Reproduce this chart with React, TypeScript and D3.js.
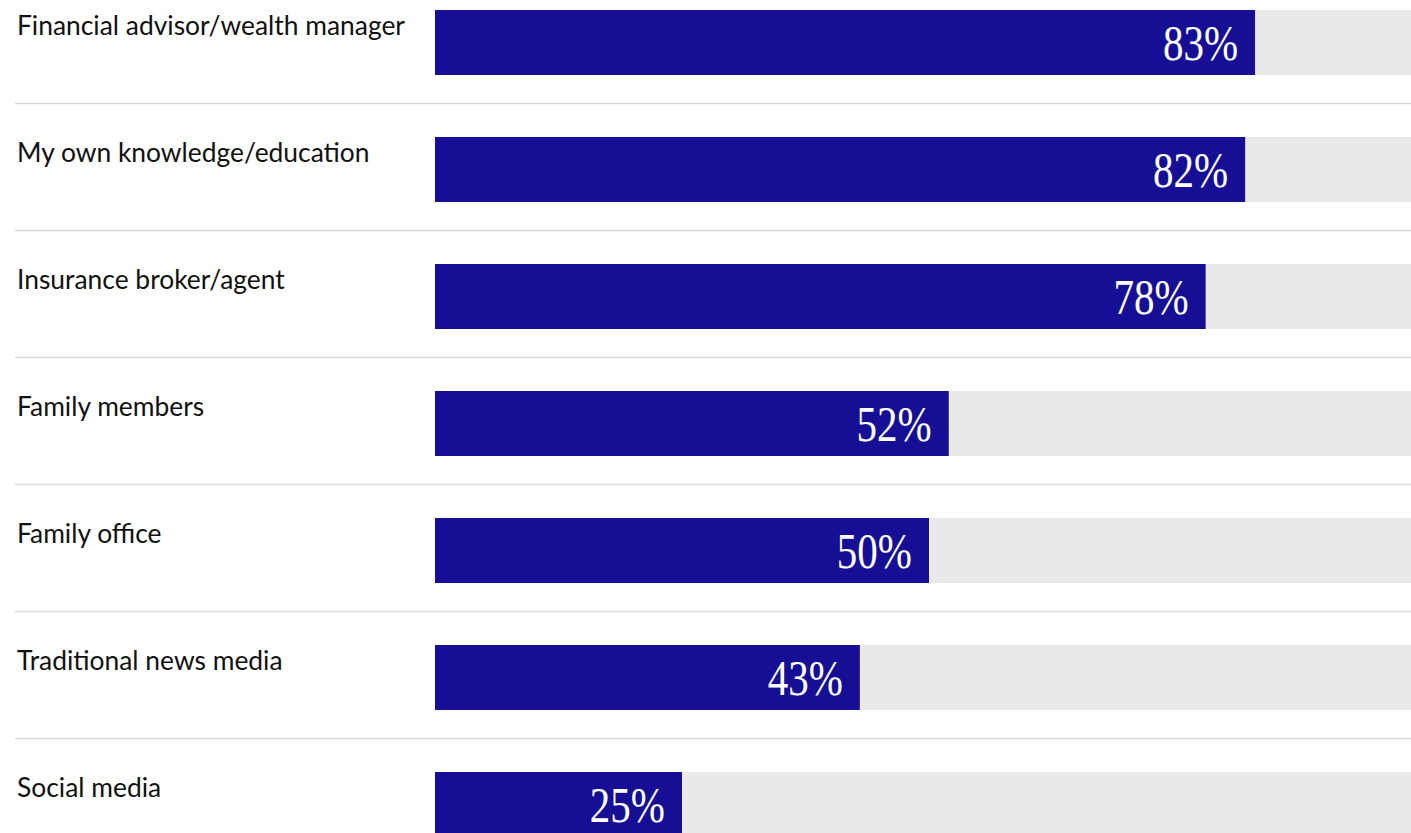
import React from "react";
import * as d3 from "d3";

const categories = [
  "Financial advisor/wealth manager",
  "My own knowledge/education",
  "Insurance broker/agent",
  "Family members",
  "Family office",
  "Traditional news media",
  "Social media",
];
const values = [83, 82, 78, 52, 50, 43, 25];

const W = 1411;
const H = 833;
const STEP = 127;
const TOP = 10;
const BAR_H = 65;
const BAR_X0 = 435;
const FULL = 988; // pixel width of 100%

export default function App() {
  const y = d3
    .scaleBand<string>()
    .domain(categories)
    .range([TOP, TOP + STEP * categories.length])
    .paddingInner(0)
    .paddingOuter(0);
  const x = d3.scaleLinear().domain([0, 100]).range([BAR_X0, BAR_X0 + FULL]);
  const data = categories.map((c, i) => ({ c, v: values[i] }));

  return (
    <svg
      width={W}
      height={H}
      style={{ position: "absolute", left: 0, top: 0, background: "#fff" }}
    >
      {data.map((d, i) => {
        const top = y(d.c)!;
        return (
          <g key={d.c}>
            <text
              x={17}
              y={top + 25}
              fontFamily="Lato, 'Open Sans', sans-serif"
              fontSize={26.4}
              fill="#111"
            >
              {d.c}
            </text>
            <rect x={x(0)} y={top} width={x(100) - x(0)} height={BAR_H} fill="#e9e9e9" />
            <rect x={x(0)} y={top} width={x(d.v) - x(0)} height={BAR_H} fill="#160f96" />
            <g transform={`translate(${x(d.v) - 17},${top + 50}) scale(0.82,1)`}>
              <text
                textAnchor="end"
                fontFamily="'Liberation Serif', 'Times New Roman', serif"
                fontSize={50}
                fill="#fff"
              >
                {d.v}%
              </text>
            </g>
            {i < data.length - 1 && (
              <line
                x1={15}
                x2={W}
                y1={top + 93.5}
                y2={top + 93.5}
                stroke="#d9d9d9"
                strokeWidth={1.5}
              />
            )}
          </g>
        );
      })}
    </svg>
  );
}
